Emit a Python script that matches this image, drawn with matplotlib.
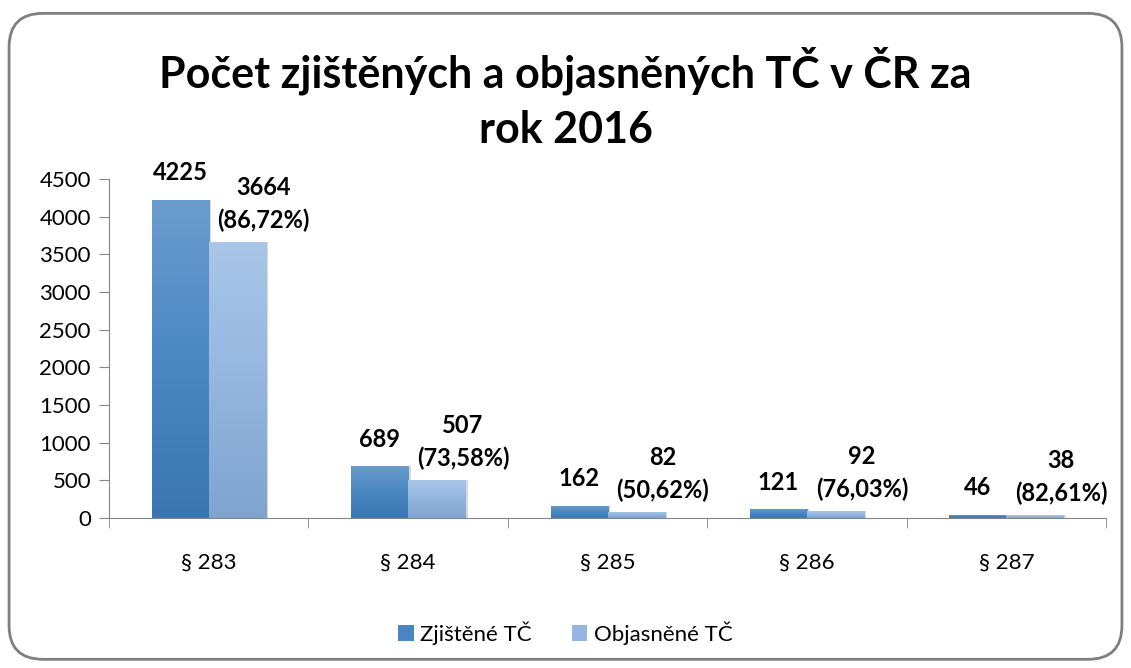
import numpy as np
import matplotlib.pyplot as plt
from matplotlib.patches import FancyBboxPatch, Rectangle
from matplotlib.colors import LinearSegmentedColormap

plt.rcParams['font.family'] = ['Lato', 'DejaVu Sans']

categories = ["§ 283", "§ 284", "§ 285", "§ 286", "§ 287"]
zjistene = [4225, 689, 162, 121, 46]
objasnene = [3664, 507, 82, 92, 38]
procenta = ["86,72%", "73,58%", "50,62%", "76,03%", "82,61%"]

fig = plt.figure(figsize=(11.31, 6.68), dpi=100)
ax = fig.add_axes([0.0964, 0.2246, 0.8816, 0.5074])

# rounded frame around the whole chart
frame = FancyBboxPatch((0.008, 0.013), 0.984, 0.967, boxstyle="round,pad=0,rounding_size=0.03",
                       transform=fig.transFigure, fill=False, edgecolor="#7f7f7f", linewidth=2,
                       mutation_aspect=1131 / 668)
fig.patches.append(frame)

x = np.arange(len(categories))
w = 0.286

cmap1 = LinearSegmentedColormap.from_list("c1", ["#3b76b1", "#4a88c4", "#6b9ccd"])
cmap2 = LinearSegmentedColormap.from_list("c2", ["#7fa4d0", "#94b6e0", "#a9c6e8"])

bars1 = ax.bar(x - w / 2, zjistene, w, color="#4a86c2", label="Zjištěné TČ")
bars2 = ax.bar(x + w / 2, objasnene, w, color="#94b6e0", label="Objasněné TČ")

grad = np.linspace(0, 1, 256).reshape(-1, 1)
for bars, cm in [(bars1, cmap1), (bars2, cmap2)]:
    for b in bars:
        x0, y0 = b.get_x(), b.get_y()
        bw, bh = b.get_width(), b.get_height()
        # light shadow on the right side
        ax.add_patch(Rectangle((x0 + bw, y0), 0.012, bh, color="#d9d9d9", lw=0, zorder=1))
        im = ax.imshow(grad, cmap=cm, aspect="auto", origin="lower",
                       extent=[x0, x0 + bw, y0, y0 + bh], zorder=2)
        im.set_clip_path(b)
        b.set_zorder(2)

for i in range(len(categories)):
    ax.annotate(str(zjistene[i]), (x[i] - w / 2, zjistene[i]), xytext=(0, 11),
                textcoords="offset points", ha="center", va="bottom",
                fontsize=17, fontweight="bold")
    ax.annotate(f"{objasnene[i]}\n({procenta[i]})", (x[i] + w / 2, objasnene[i]),
                xytext=(19, 7), textcoords="offset points", ha="center", va="bottom",
                fontsize=17, fontweight="bold", linespacing=1.5)

ax.set_xlim(-0.5, len(categories) - 0.5)
ax.set_ylim(0, 4500)
ax.set_yticks(np.arange(0, 4501, 500))
ax.set_xticks(x)
ax.set_xticklabels(categories)
ax.set_xticks(np.arange(-0.5, len(categories), 1), minor=True)
ax.tick_params(axis="x", which="major", length=0, pad=25, labelsize=16)
ax.tick_params(axis="x", which="minor", length=7, color="#868686")
ax.tick_params(axis="y", length=7, color="#868686", labelsize=16, pad=6)

for s in ["top", "right"]:
    ax.spines[s].set_visible(False)
ax.spines["left"].set_color("#868686")
ax.spines["bottom"].set_color("#868686")

fig.text(0.5, 0.853, "Počet zjištěných a objasněných TČ v ČR za\nrok 2016", ha="center",
         va="center", fontsize=31, fontweight="bold", linespacing=1.45)

fig.legend(handles=[bars1, bars2], loc="center", bbox_to_anchor=(0.5, 0.052), ncol=2,
           frameon=False, fontsize=16, handlelength=0.7, handleheight=0.7,
           handletextpad=0.3, columnspacing=1.8)

fig.savefig("out.png", dpi=100)
